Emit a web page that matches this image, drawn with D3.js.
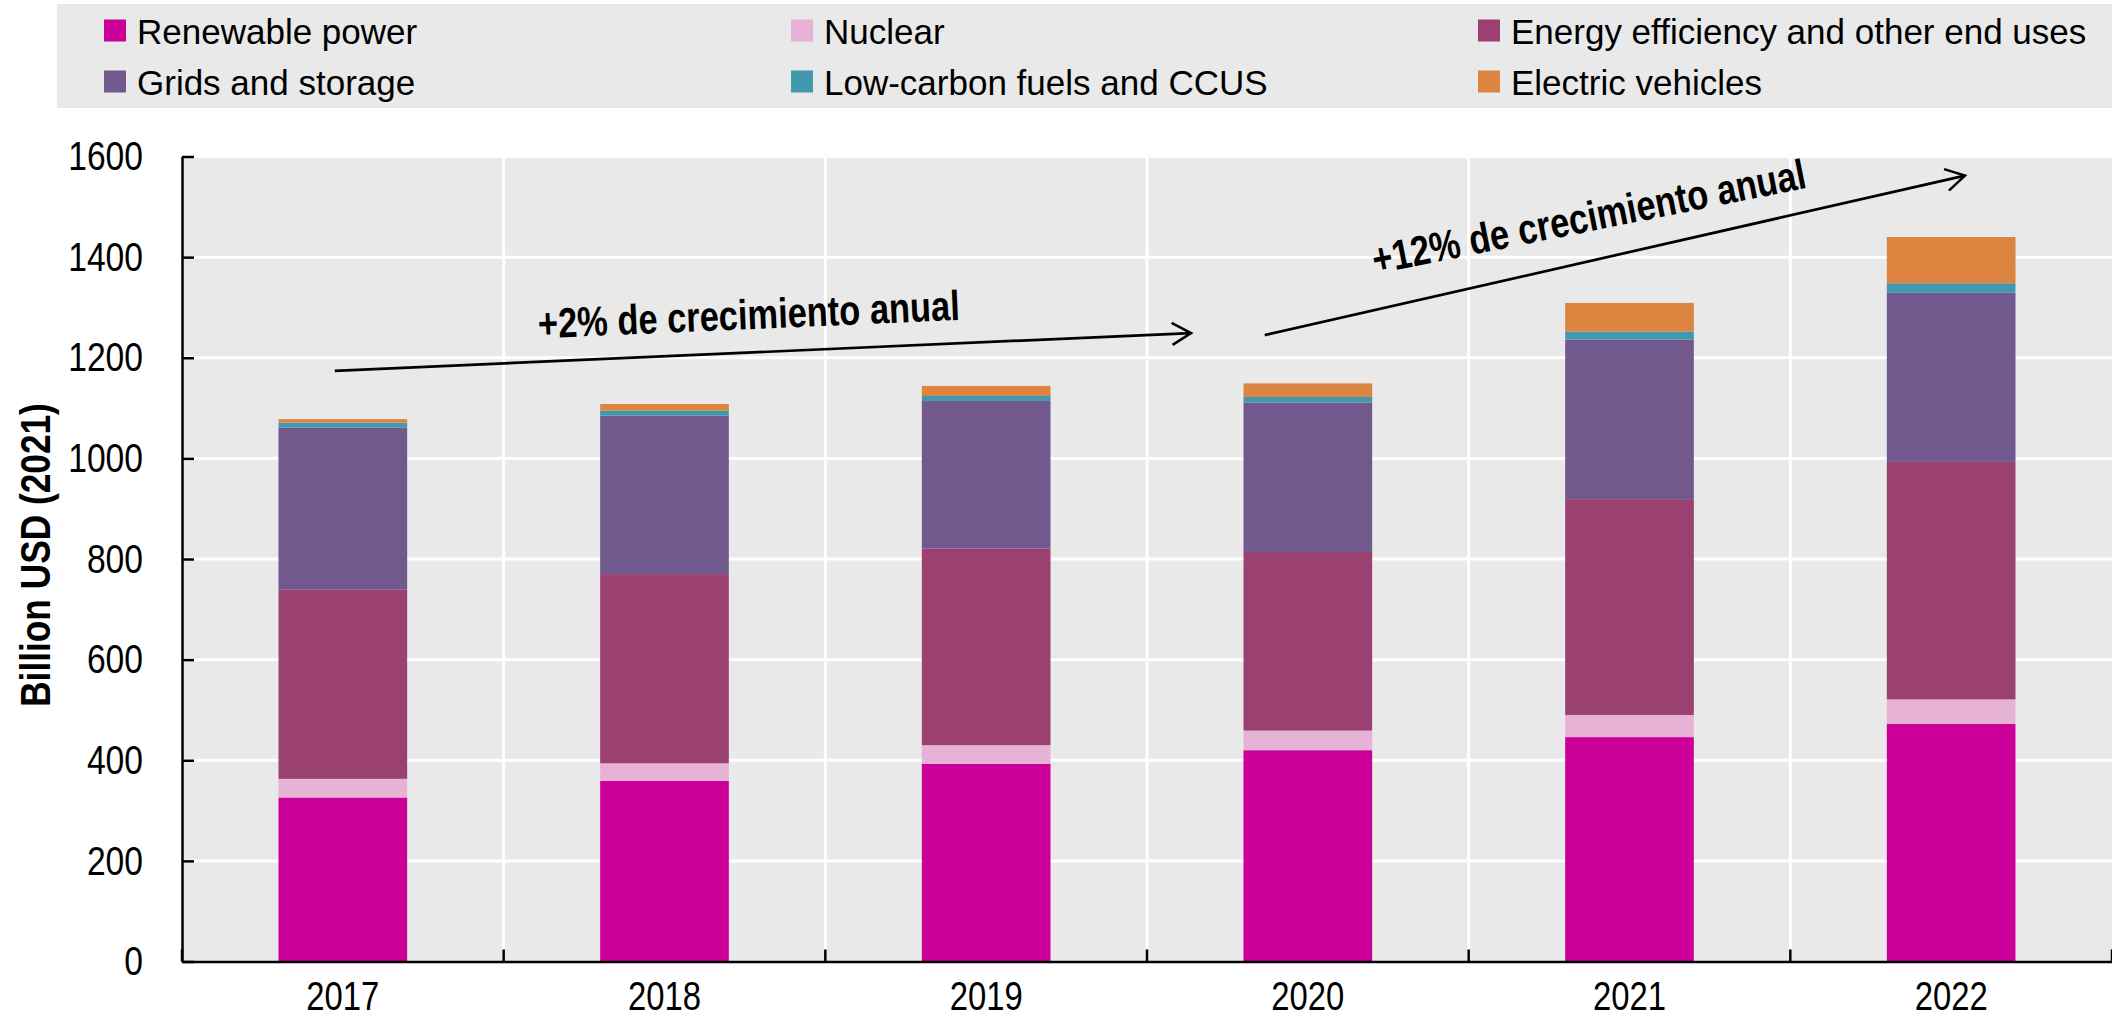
<!DOCTYPE html>
<html>
<head>
<meta charset="utf-8">
<script src="https://cdn.jsdelivr.net/npm/d3@7"></script>
<style>
  html, body { margin: 0; padding: 0; background: #ffffff; }
  svg { display: block; }
</style>
</head>
<body>
<svg id="chart" width="2112" height="1021"></svg>
<script>
// ---------------- DATA ----------------
const years = ["2017", "2018", "2019", "2020", "2021", "2022"];
const seriesNames = ["Renewable power", "Nuclear", "Energy efficiency and other end uses",
                     "Grids and storage", "Low-carbon fuels and CCUS", "Electric vehicles"];
const renewable   = [326, 359, 393, 420, 446, 472];
const nuclear     = [37, 35, 37, 39, 44, 49];
const efficiency  = [376, 376, 391, 355, 429, 472];
const grids       = [322, 315, 293, 297, 317, 336];
const lowCarbon   = [10, 10, 10, 11, 16, 19];
const electricVeh = [7, 13, 20, 27, 57, 92];
const seriesColors = ["#CC0099", "#E6B3D6", "#9B4172", "#71598E", "#4298AF", "#DC8440"];
const yTicks = [0, 200, 400, 600, 800, 1000, 1200, 1400, 1600];
const yLabel = "Billion USD (2021)";
// annotations: positions in (category units, value units)
const annoLabels = ["+2% de crecimiento anual", "+12% de crecimiento anual"];
const annoArrows = [
  { x1: 0.475, y1: 1174, x2: 3.137, y2: 1249 },
  { x1: 3.366, y1: 1245, x2: 5.543, y2: 1562 }
];
const annoText = [
  { x: 1.764, y: 1257, angle: -2.5 },
  { x: 4.382, y: 1452, angle: -11.3 }
];

// ---------------- SETUP ----------------
const svg = d3.select("#chart");
const W = 2112, H = 1021;
const plot = { left: 182, right: 2112, top: 156.5, bottom: 961.5 };

function hasFont(name) {
  const c = document.createElement("canvas").getContext("2d");
  const s = "abcdefghij0123456789";
  c.font = "40px monospace";
  const a = c.measureText(s).width;
  c.font = `40px '${name}', monospace`;
  const b = c.measureText(s).width;
  return Math.abs(a - b) > 0.5;
}
const narrowOK = hasFont("Liberation Sans Narrow");
const narrowFamily = narrowOK ? "'Liberation Sans Narrow', 'Arial Narrow', sans-serif"
                              : "'Liberation Sans', Arial, sans-serif";
const regularFamily = "'Liberation Sans', Arial, sans-serif";
function condense(sel) {
  if (narrowOK) return;
  sel.each(function () {
    const L = this.getComputedTextLength();
    d3.select(this).attr("textLength", L * 0.82).attr("lengthAdjust", "spacingAndGlyphs");
  });
}

const rows = years.map((yr, i) => ({
  year: yr,
  [seriesNames[0]]: renewable[i],
  [seriesNames[1]]: nuclear[i],
  [seriesNames[2]]: efficiency[i],
  [seriesNames[3]]: grids[i],
  [seriesNames[4]]: lowCarbon[i],
  [seriesNames[5]]: electricVeh[i]
}));
const stacked = d3.stack().keys(seriesNames)(rows);

const x = d3.scaleBand().domain(years).range([plot.left, plot.right])
  .paddingInner(0.6).paddingOuter(0.3);
const xLin = d3.scaleLinear().domain([0, years.length]).range([plot.left, plot.right]);
const y = d3.scaleLinear().domain([0, 1600]).range([plot.bottom, plot.top]);
const color = d3.scaleOrdinal().domain(seriesNames).range(seriesColors);

// ---------------- LEGEND ----------------
const legend = svg.append("g");
legend.append("rect").attr("x", 57).attr("y", 4).attr("width", W - 57).attr("height", 104)
  .attr("fill", "#E9E9E9");
const legCols = [104, 791, 1478];
const legRows = [30.5, 81.5];
seriesNames.forEach((name, i) => {
  const col = i % 3, row = Math.floor(i / 3);
  const g = legend.append("g").attr("transform", `translate(${legCols[col]},${legRows[row]})`);
  g.append("rect").attr("x", 0).attr("y", -11).attr("width", 22).attr("height", 22)
    .attr("fill", color(name));
  g.append("text").attr("x", 33).attr("y", 13)
    .attr("font-family", regularFamily).attr("font-size", 35).attr("fill", "#000")
    .text(name);
});

// ---------------- PLOT BACKGROUND & GRID ----------------
svg.append("rect").attr("x", plot.left).attr("y", plot.top)
  .attr("width", plot.right - plot.left).attr("height", plot.bottom - plot.top)
  .attr("fill", "#E9E9E9");

svg.append("g").selectAll("line").data(yTicks.filter(d => d > 0)).join("line")
  .attr("x1", plot.left).attr("x2", plot.right)
  .attr("y1", d => y(d)).attr("y2", d => y(d))
  .attr("stroke", "#ffffff").attr("stroke-width", 3);

const boundaries = d3.range(1, years.length).map(i => xLin(i));
svg.append("g").selectAll("line").data(boundaries).join("line")
  .attr("x1", d => d).attr("x2", d => d)
  .attr("y1", plot.top).attr("y2", plot.bottom)
  .attr("stroke", "#ffffff").attr("stroke-width", 3);

// ---------------- BARS ----------------
svg.append("g").selectAll("g").data(stacked).join("g")
  .attr("fill", d => color(d.key))
  .selectAll("rect").data(d => d).join("rect")
  .attr("x", d => x(d.data.year))
  .attr("width", x.bandwidth())
  .attr("y", d => y(d[1]))
  .attr("height", d => y(d[0]) - y(d[1]));

// ---------------- AXES ----------------
const yAxis = svg.append("g").attr("transform", `translate(${plot.left},0)`)
  .call(d3.axisLeft(y).tickValues(yTicks).tickFormat(d3.format("d"))
    .tickSize(-12).tickSizeOuter(0).tickPadding(39));
yAxis.select(".domain").attr("stroke", "#000").attr("stroke-width", 2.5);
yAxis.selectAll(".tick line").attr("stroke", "#000").attr("stroke-width", 2.5);
yAxis.selectAll(".tick text").attr("font-family", narrowFamily).attr("font-size", 41)
  .attr("fill", "#000").call(condense);

const xAxis = svg.append("g").attr("transform", `translate(0,${plot.bottom})`)
  .call(d3.axisBottom(x).tickSize(0).tickSizeOuter(0).tickPadding(20));
xAxis.select(".domain").attr("stroke", "#000").attr("stroke-width", 2.5);
xAxis.selectAll(".tick text").attr("font-family", narrowFamily).attr("font-size", 40)
  .attr("fill", "#000").call(condense);
svg.append("g").selectAll("line").data(d3.range(0, years.length + 1).map(i => xLin(i))).join("line")
  .attr("x1", d => d).attr("x2", d => d)
  .attr("y1", plot.bottom).attr("y2", plot.bottom - 12)
  .attr("stroke", "#000").attr("stroke-width", 2.5);

// y label
svg.append("text")
  .attr("transform", `translate(50,${555}) rotate(-90)`)
  .attr("text-anchor", "middle")
  .attr("font-family", narrowFamily).attr("font-weight", "bold").attr("font-size", 43)
  .attr("fill", "#000").text(yLabel).call(condense);

// ---------------- ANNOTATIONS ----------------
const defs = svg.append("defs");
defs.append("marker").attr("id", "arrowhead")
  .attr("viewBox", "0 0 24 24").attr("refX", 21).attr("refY", 12)
  .attr("markerWidth", 24).attr("markerHeight", 24)
  .attr("markerUnits", "userSpaceOnUse").attr("orient", "auto")
  .append("path").attr("d", "M2,1 L21,12 L2,23")
  .attr("fill", "none").attr("stroke", "#000").attr("stroke-width", 2.5);

svg.append("g").selectAll("line").data(annoArrows).join("line")
  .attr("x1", d => xLin(d.x1)).attr("y1", d => y(d.y1))
  .attr("x2", d => xLin(d.x2)).attr("y2", d => y(d.y2))
  .attr("stroke", "#000").attr("stroke-width", 2.7)
  .attr("marker-end", "url(#arrowhead)");

svg.append("g").selectAll("text").data(annoText).join("text")
  .attr("transform", d => `translate(${xLin(d.x)},${y(d.y)}) rotate(${d.angle})`)
  .attr("text-anchor", "middle")
  .attr("font-family", narrowFamily).attr("font-weight", "bold").attr("font-size", 42)
  .attr("fill", "#000")
  .text((d, i) => annoLabels[i]).call(condense);
</script>
</body>
</html>
